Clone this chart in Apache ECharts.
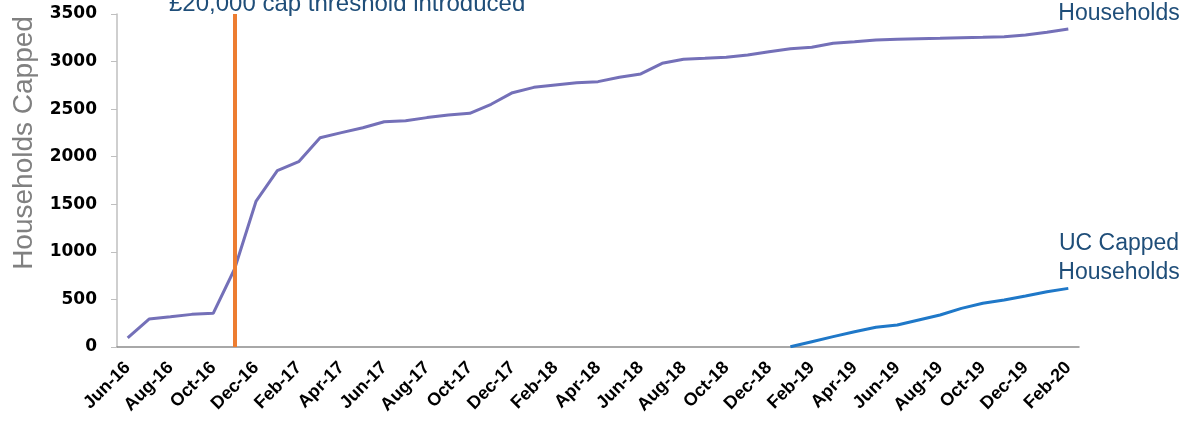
<!DOCTYPE html>
<html>
<head>
<meta charset="utf-8">
<script src="https://cdn.jsdelivr.net/npm/echarts@6/dist/echarts.min.js"></script>
<style>
  html, body { margin: 0; padding: 0; background: #fff; }
  #chart { width: 1185px; height: 423px; }
</style>
</head>
<body>
<div id="chart"></div>
<script>
// monthly, Jun-16 .. Feb-20
const months = [
  'Jun-16', 'Jul-16', 'Aug-16', 'Sep-16', 'Oct-16', 'Nov-16', 'Dec-16',
  'Jan-17', 'Feb-17', 'Mar-17', 'Apr-17', 'May-17', 'Jun-17', 'Jul-17', 'Aug-17', 'Sep-17', 'Oct-17', 'Nov-17', 'Dec-17',
  'Jan-18', 'Feb-18', 'Mar-18', 'Apr-18', 'May-18', 'Jun-18', 'Jul-18', 'Aug-18', 'Sep-18', 'Oct-18', 'Nov-18', 'Dec-18',
  'Jan-19', 'Feb-19', 'Mar-19', 'Apr-19', 'May-19', 'Jun-19', 'Jul-19', 'Aug-19', 'Sep-19', 'Oct-19', 'Nov-19', 'Dec-19',
  'Jan-20', 'Feb-20'
]
const hbCapped = [
  95, 294, 318, 343, 354, 820, 1530,
  1853, 1948, 2200, 2253, 2305, 2368, 2379, 2411, 2438, 2456, 2551, 2673,
  2729, 2754, 2778, 2789, 2835, 2870, 2982, 3024, 3034, 3045, 3069, 3104,
  3135, 3150, 3192, 3209, 3227, 3234, 3241, 3245, 3251, 3255, 3262, 3279,
  3308, 3342
]
const ucCapped = [
  null, null, null, null, null, null, null,
  null, null, null, null, null, null, null, null, null, null, null, null,
  null, null, null, null, null, null, null, null, null, null, null, null,
  3, 56, 109, 161, 207, 231, 284, 336, 406, 459, 494, 536,
  581, 616
]
const capMonth = 'Nov-16'
const yTicks = { min: 0, max: 3500, interval: 500 }

const chart = echarts.init(document.getElementById('chart'))
const noteColor = '#1f4e79'

chart.setOption({
  animation: false,
  backgroundColor: '#fff',
  textStyle: { fontFamily: 'Liberation Sans, Arial, sans-serif' },
  grid: { left: 117, right: 106, top: 14, bottom: 76, containLabel: false },
  xAxis: {
    type: 'category',
    data: months,
    boundaryGap: true,
    axisLine: { lineStyle: { color: '#8c8c8c', width: 1.5 } },
    axisTick: { show: false },
    axisLabel: {
      interval: 1,
      rotate: 45,
      margin: 18,
      color: '#000',
      fontWeight: 'bold',
      fontSize: 18
    }
  },
  yAxis: {
    type: 'value',
    min: yTicks.min,
    max: yTicks.max,
    interval: yTicks.interval,
    splitLine: { show: false },
    axisLine: { show: true, lineStyle: { color: '#bfbfbf', width: 1.5 } },
    axisTick: { show: true, length: 6, lineStyle: { color: '#bfbfbf' } },
    axisLabel: {
      color: '#000',
      fontWeight: 'bold',
      fontSize: 17,
      margin: 20,
      fontFamily: 'DejaVu Sans',
      formatter: v => String(v)
    }
  },
  graphic: [
    {
      type: 'text', x: 24, y: 143, rotation: Math.PI / 2,
      style: { text: 'Households Capped', fill: '#808080', font: '28px Liberation Sans', align: 'center', verticalAlign: 'middle' }
    },
    {
      type: 'text', x: 169, y: 16,
      style: { text: '£20,000 cap threshold introduced', fill: noteColor, font: '24px Liberation Sans', align: 'left', verticalAlign: 'bottom' }
    },
    {
      type: 'text', x: 1119, y: 28,
      style: { text: 'HB Capped\nHouseholds', fill: noteColor, font: '23px Liberation Sans', lineHeight: 29, align: 'center', verticalAlign: 'bottom' }
    },
    {
      type: 'text', x: 1119, y: 287,
      style: { text: 'UC Capped\nHouseholds', fill: noteColor, font: '23px Liberation Sans', lineHeight: 29, align: 'center', verticalAlign: 'bottom' }
    }
  ],
  series: [
    {
      name: 'HB Capped Households',
      type: 'line',
      data: hbCapped,
      symbol: 'none',
      lineStyle: { color: '#7470b8', width: 3 },
      itemStyle: { color: '#7470b8' },
      markLine: {
        silent: true,
        symbol: 'none',
        label: { show: false },
        lineStyle: { color: '#ed7d31', width: 4, type: 'solid' },
        data: [{ xAxis: capMonth }]
      },
      z: 3
    },
    {
      name: 'UC Capped Households',
      type: 'line',
      data: ucCapped,
      symbol: 'none',
      connectNulls: false,
      lineStyle: { color: '#1f78c8', width: 3 },
      itemStyle: { color: '#1f78c8' },
      z: 3
    }
  ]
})
</script>
</body>
</html>
